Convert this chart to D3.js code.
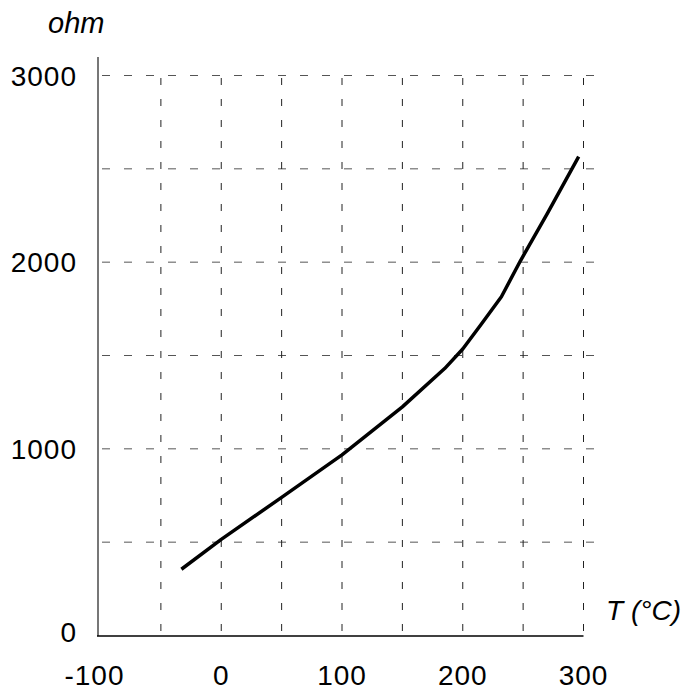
<!DOCTYPE html>
<html><head><meta charset="utf-8">
<script src="https://cdn.jsdelivr.net/npm/d3@7"></script>
<style>html,body{margin:0;padding:0;background:#fff}</style>
</head><body>
<svg id="c" width="696" height="690"></svg>
<script>
const temps = [-33, 0, 50, 100, 150, 185, 200, 215, 232, 248, 270, 296];
const ohms  = [355, 515, 740, 968, 1225, 1430, 1535, 1665, 1815, 2010, 2260, 2565];
const xTicks = [-100, 0, 100, 200, 300];
const yTicks = [0, 1000, 2000, 3000];
const xGrid = [-50, 0, 50, 100, 150, 200, 250, 300];
const yGrid = [500, 1000, 1500, 2000, 2500, 3000];

const svg = d3.select("#c");
const x = d3.scaleLinear().domain([-100, 300]).range([100.5, 583.5]);
const y = d3.scaleLinear().domain([0, 3000]).range([635.5, 75.5]);
const font = "Liberation Sans, Arial, sans-serif";

// grid
svg.append("g").selectAll("line").data(yGrid).join("line")
  .attr("x1", 98).attr("x2", 595)
  .attr("y1", d => y(d)).attr("y2", d => y(d))
  .attr("stroke", "#555").attr("stroke-width", 1)
  .attr("stroke-dasharray", "8,14").attr("stroke-dashoffset", -4);
svg.append("g").selectAll("line").data(xGrid).join("line")
  .attr("x1", d => x(d)).attr("x2", d => x(d))
  .attr("y1", 78).attr("y2", 636)
  .attr("stroke", "#222").attr("stroke-width", 1)
  .attr("stroke-dasharray", "7,14");

// axes lines
svg.append("line").attr("x1", 98).attr("x2", 98).attr("y1", 57).attr("y2", 636)
  .attr("stroke", "#777").attr("stroke-width", 2);
svg.append("line").attr("x1", 97).attr("x2", x(300)).attr("y1", 636).attr("y2", 636)
  .attr("stroke", "#000").attr("stroke-width", 1.5);

// tick labels
svg.append("g").selectAll("text").data(xTicks).join("text")
  .attr("x", d => x(d) - (d < 0 ? 6 : 0)).attr("y", 685)
  .attr("text-anchor", "middle").attr("font-family", font).attr("font-size", 28)
  .attr("letter-spacing", 1)
  .text(d => d);
svg.append("g").selectAll("text").data(yTicks).join("text")
  .attr("x", 77).attr("y", d => y(d) + 10 - (d === 0 ? 4 : 0))
  .attr("text-anchor", "end").attr("font-family", font).attr("font-size", 28)
  .attr("letter-spacing", 1)
  .text(d => d);

// axis titles
svg.append("text").attr("x", 48).attr("y", 33).attr("font-family", font)
  .attr("font-size", 29).attr("font-style", "italic").text("ohm");
svg.append("text").attr("x", 606).attr("y", 620).attr("font-family", font)
  .attr("font-size", 28).attr("font-style", "italic").text("T (°C)");

// curve
const data = temps.map((t, i) => ({t, r: ohms[i]}));
svg.append("path").datum(data)
  .attr("d", d3.line().x(d => x(d.t)).y(d => y(d.r)))
  .attr("fill", "none").attr("stroke", "#000").attr("stroke-width", 3.5)
  .attr("stroke-linejoin", "round");
</script>
</body></html>
